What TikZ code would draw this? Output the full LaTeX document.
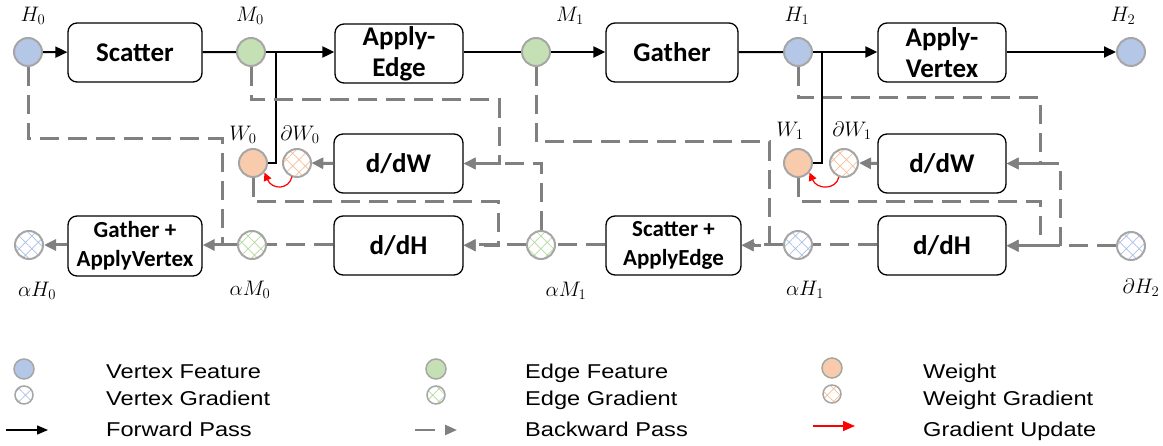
\documentclass[tikz,border=0pt]{standalone}
\usepackage{fix-cm}
\usepackage{fontspec}
\newfontfamily\boxfont{Carlito}
\newfontfamily\legfont{Liberation Sans}
\usetikzlibrary{arrows.meta,patterns.meta}

\definecolor{vtx}{HTML}{B4C7E7}
\definecolor{edg}{HTML}{C5E0B4}
\definecolor{wgt}{HTML}{F8CBAD}
\definecolor{vtxh}{HTML}{A9BFE6}
\definecolor{edgh}{HTML}{B5DA9C}
\definecolor{wgth}{HTML}{F6BE98}
\definecolor{ring}{HTML}{A6A6A6}
\definecolor{bwdgray}{HTML}{808080}

\tikzset{
  feat/.style={circle, draw=ring, line width=2pt, minimum size=28pt, inner sep=0pt},
  hatch/.style={feat, pattern={Hatch[angle=45,distance=9pt,line width=0.7pt]}, pattern color=#1},
  stage/.style={draw=black, line width=1.3pt, rounded corners=9pt, inner sep=0pt,
    align=center, minimum height=59pt,
    font=\boxfont\bfseries\fontsize{27}{31}\selectfont},
  stagesmall/.style={stage, font=\boxfont\bfseries\fontsize{23}{29}\selectfont},
  lbl/.style={inner sep=0pt, font=\fontsize{21}{25}\selectfont},
  fwd/.style={draw=black, line width=2pt, -{Triangle[length=12pt,width=11pt]}},
  fwdline/.style={draw=black, line width=2pt},
  tap/.style={draw=black, line width=1.5pt},
  bwd/.style={draw=bwdgray, line width=3pt, dash pattern=on 19pt off 9pt},
  bwdarr/.style={bwd, -{Triangle[length=12pt,width=11pt]}},
  bwdsolid/.style={draw=bwdgray, line width=3pt, -{Triangle[length=12pt,width=11pt]}},
  upd/.style={draw=red, line width=1.2pt, -{Triangle[length=8pt,width=8pt]}},
  legtext/.style={inner sep=0pt, anchor=base west, font=\legfont\fontsize{20}{24}\selectfont},
}

\newcommand{\legwide}[1]{\scalebox{1.18}[1]{#1}}

\begin{document}
\begin{tikzpicture}[x=1pt, y=-1pt]
\useasboundingbox (0,0) rectangle (1163,446);

% ---------- forward-pass stages ----------
\node[stage, minimum width=134pt] (scatter) at (135,52.5) {Scatter};
\node[stage, minimum width=128pt] (applyedge) at (399,53.5) {Apply-\\Edge};
\node[stage, minimum width=132pt] (gather) at (672,52.5) {Gather};
\node[stage, minimum width=128pt] (applyvertex) at (942,52.5) {Apply-\\Vertex};

% ---------- backward-pass stages ----------
\node[stage, minimum width=129pt] (dWa) at (398.5,163.5) {d/dW};
\node[stage, minimum width=128pt] (dWb) at (942,163.5) {d/dW};
\node[stage, minimum width=129pt] (dHa) at (398.5,245.5) {d/dH};
\node[stage, minimum width=128pt] (dHb) at (942,245.5) {d/dH};
\node[stagesmall, minimum width=134pt, minimum height=60pt] (gav) at (135,246) {Gather +\\ApplyVertex};
\node[stagesmall, minimum width=135pt] (sae) at (673.5,245.5) {Scatter +\\ApplyEdge};

% ---------- features ----------
\node[feat, fill=vtx] (H0) at (28,52) {};
\node[feat, fill=edg] (M0) at (251,52) {};
\node[feat, fill=edg] (M1) at (536,52) {};
\node[feat, fill=vtx] (H1) at (798,52) {};
\node[feat, fill=vtx] (H2) at (1131,52) {};
\node[feat, fill=wgt] (W0) at (253,163) {};
\node[feat, fill=wgt] (W1) at (798,163) {};

% ---------- gradients ----------
\node[hatch=wgth] (dW0) at (297,163) {};
\node[hatch=wgth] (dW1) at (844,163) {};
\node[hatch=vtxh] (aH0) at (29,245) {};
\node[hatch=edgh] (aM0) at (252,245) {};
\node[hatch=edgh] (aM1) at (541,245) {};
\node[hatch=vtxh] (aH1) at (798,245) {};
\node[hatch=vtxh] (dH2) at (1131,246) {};

% ---------- labels ----------
\node[lbl] at (33,16) {$H_0$};
\node[lbl] at (250,16) {$M_0$};
\node[lbl] at (570,16) {$M_1$};
\node[lbl] at (797,16) {$H_1$};
\node[lbl] at (1123,16) {$H_2$};
\node[lbl] at (243,135) {$W_0$};
\node[lbl] at (300,135) {$\partial W_0$};
\node[lbl] at (790,131) {$W_1$};
\node[lbl] at (852,131) {$\partial W_1$};
\node[lbl] at (37,291) {$\alpha H_0$};
\node[lbl] at (250,290) {$\alpha M_0$};
\node[lbl] at (566,291) {$\alpha M_1$};
\node[lbl] at (805,290) {$\alpha H_1$};
\node[lbl] at (1141,288) {$\partial H_2$};

% ---------- forward pass ----------
\coordinate (tap0) at (276,52);
\coordinate (tap1) at (822,52);
\draw[fwd] (H0) -- (scatter);
\draw[fwdline] (scatter) -- (M0);
\draw[fwd] (M0.east) -- (M0.east -| applyedge.west);
\draw[tap] (tap0) |- (W0.east);
\draw[fwdline] (applyedge.east |- M1) -- (M1);
\draw[fwd] (M1) -- (gather.west |- M1);
\draw[fwdline] (gather) -- (H1);
\draw[fwd] (H1.east) -- (H1.east -| applyvertex.west);
\draw[tap] (tap1) |- (W1.east);
\draw[fwd] (applyvertex.east |- H2) -- (H2);

% ---------- backward pass ----------
\coordinate (dropH0) at (222,245);
\draw[bwd] (H0.south) |- (222,139) -- (dropH0);
\draw[bwdsolid] (aM0.west) -- (aM0.west -| gav.east);
\draw[bwdsolid] (gav.west |- aH0) -- (aH0.east);
\draw[bwd] (dHa.west |- aM0) -- (aM0.east);
\draw[bwdarr] (M0.south) |- (499,100) |- (dWa.east);
\draw[bwdarr] (W0.south) |- (498,202) |- (dHa.east);
\draw[bwdarr] (aM1.north) |- (dWa.east);
\draw[bwdarr] (aM1.west) -- (aM1.west -| dHa.east);
\draw[bwd] (sae.west |- aM1) -- (aM1.east);
\draw[bwdarr] (M1.south) |- (769,142) |- (sae.east);
\draw[bwdarr] (aH1.west) -- (aH1.west -| sae.east);
\draw[bwd] (dHb.west |- aH1) -- (aH1.east);
\draw[bwdarr] (H1.south) |- (1040,98) |- (dWb.east);
\draw[bwdarr] (W1.south) |- (1040,202) |- (dHb.east);
\draw[bwdarr] (dH2.west) -| (1060,163.5) -- (dWb.east);
\draw[bwdarr] (dH2.west) -- (dH2.west -| dHb.east);
\draw[bwdsolid] (dWa.west) -- (dW0.east);
\draw[bwdsolid] (dWb.west) -- (dW1.east);

% ---------- weight updates ----------
\draw[upd] (dW0.250) .. controls (289,190) and (272,190) .. (W0.-40);
\draw[upd] (dW1.250) .. controls (836,190) and (817,190) .. (W1.-40);

% ---------- legend ----------
\node[feat, fill=vtx, minimum size=20pt, line width=1.5pt] (kv) at (24,369) {};
\node[hatch=vtxh, minimum size=18pt, line width=1.5pt] (kvg) at (24,395) {};
\draw[draw=black, line width=1.5pt, -{Triangle[length=11pt,width=9pt]}] (6,430) -- (48,430);
\node[legtext] at (106,379) {\legwide{Vertex Feature}};
\node[legtext] at (106,406) {\legwide{Vertex Gradient}};
\node[legtext] at (106,437) {\legwide{Forward Pass}};

\node[feat, fill=edg, minimum size=20pt, line width=1.5pt] (ke) at (436,369) {};
\node[hatch=edgh, minimum size=18pt, line width=1.5pt] (keg) at (436,395) {};
\draw[bwd, line width=2.5pt, dash pattern=on 20pt off 10pt, -{Triangle[length=12pt,width=10pt]}] (415,430) -- (457,430);
\node[legtext] at (525,379) {\legwide{Edge Feature}};
\node[legtext] at (525,406) {\legwide{Edge Gradient}};
\node[legtext] at (525,437) {\legwide{Backward Pass}};

\node[feat, fill=wgt, minimum size=20pt, line width=1.5pt] (kw) at (832,368) {};
\node[hatch=wgth, minimum size=18pt, line width=1.5pt] (kwg) at (832,394) {};
\draw[draw=red, line width=1.5pt, -{Triangle[length=12pt,width=10pt]}] (813,426) -- (855,426);
\node[legtext] at (923,379) {\legwide{Weight}};
\node[legtext] at (923,406) {\legwide{Weight Gradient}};
\node[legtext] at (923,437) {\legwide{Gradient Update}};
\end{tikzpicture}
\end{document}
